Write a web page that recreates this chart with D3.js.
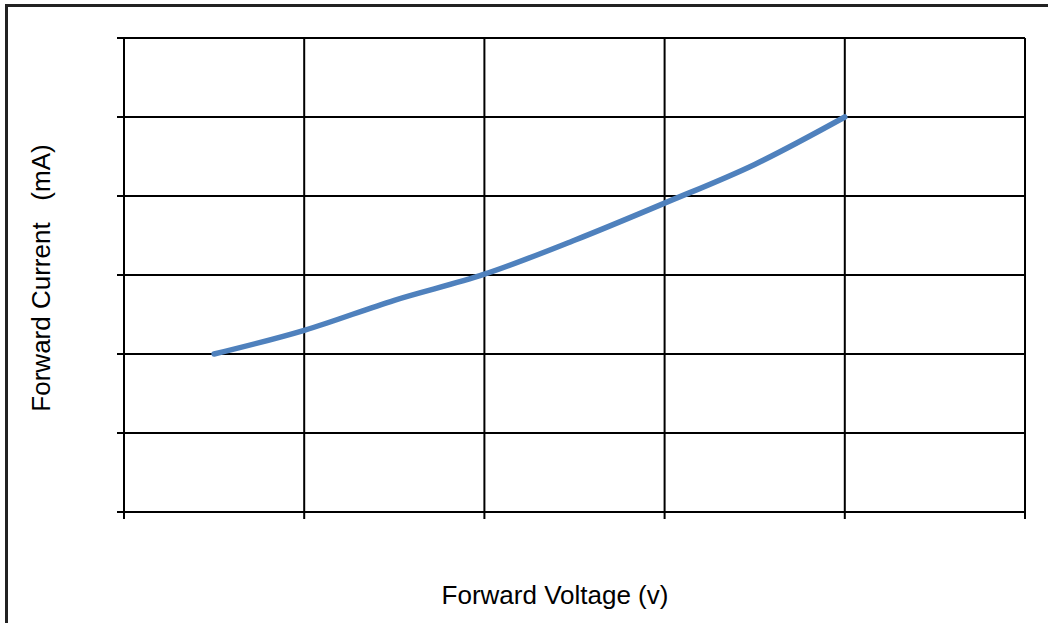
<!DOCTYPE html>
<html>
<head>
<meta charset="utf-8">
<script src="https://cdn.jsdelivr.net/npm/d3@7"></script>
<style>
  body { margin: 0; background: #fff; }
  svg { display: block; font-family: "Liberation Sans", Arial, sans-serif; }
</style>
</head>
<body>
<svg id="chart" width="1048" height="623"></svg>
<script>
// values (no tick labels shown, arbitrary units)
var voltage = [0.5, 1, 1.5, 2, 2.5, 3, 3.5, 4];
var current = [2.0, 2.3, 2.68, 3.01, 3.44, 3.91, 4.4, 5.0];
var xTicks = [0, 1, 2, 3, 4, 5];
var yTicks = [0, 1, 2, 3, 4, 5, 6];

var svg = d3.select('#chart');
var margin = { left: 124, top: 38, right: 23, bottom: 111 };
var width = 1048 - margin.left - margin.right;
var height = 623 - margin.top - margin.bottom;

// outer frame
svg.append('rect')
  .attr('x', 6.5).attr('y', 5.5)
  .attr('width', 1060).attr('height', 640)
  .attr('fill', 'none')
  .attr('stroke', '#222')
  .attr('stroke-width', 3);

var g = svg.append('g').attr('transform', 'translate(' + margin.left + ',' + margin.top + ')');

var x = d3.scaleLinear().domain([0, 5]).range([0, width]);
var y = d3.scaleLinear().domain([0, 6]).range([height, 0]);

// grid
g.selectAll('line.vgrid').data(xTicks).enter().append('line')
  .attr('class', 'vgrid')
  .attr('x1', function(d) { return x(d); }).attr('x2', function(d) { return x(d); })
  .attr('y1', 0).attr('y2', height + 7)
  .attr('stroke', '#000').attr('stroke-width', 2);

g.selectAll('line.hgrid').data(yTicks).enter().append('line')
  .attr('class', 'hgrid')
  .attr('x1', -7).attr('x2', width)
  .attr('y1', function(d) { return y(d); }).attr('y2', function(d) { return y(d); })
  .attr('stroke', '#000').attr('stroke-width', 2);

// curve
var line = d3.line()
  .x(function(d, i) { return x(voltage[i]); })
  .y(function(d) { return y(d); })
  .curve(d3.curveMonotoneX);

g.append('path')
  .datum(current)
  .attr('d', line)
  .attr('fill', 'none')
  .attr('stroke', '#4F81BD')
  .attr('stroke-width', 5.5)
  .attr('stroke-linecap', 'round');

// axis titles
svg.append('text')
  .attr('x', 555).attr('y', 604)
  .attr('text-anchor', 'middle')
  .attr('font-size', 26)
  .text('Forward Voltage (v)');

svg.append('text')
  .attr('transform', 'translate(50,278) rotate(-90)')
  .attr('text-anchor', 'middle')
  .attr('font-size', 26)
  .style('white-space', 'pre')
  .text('Forward Current   (mA)');
</script>
</body>
</html>
